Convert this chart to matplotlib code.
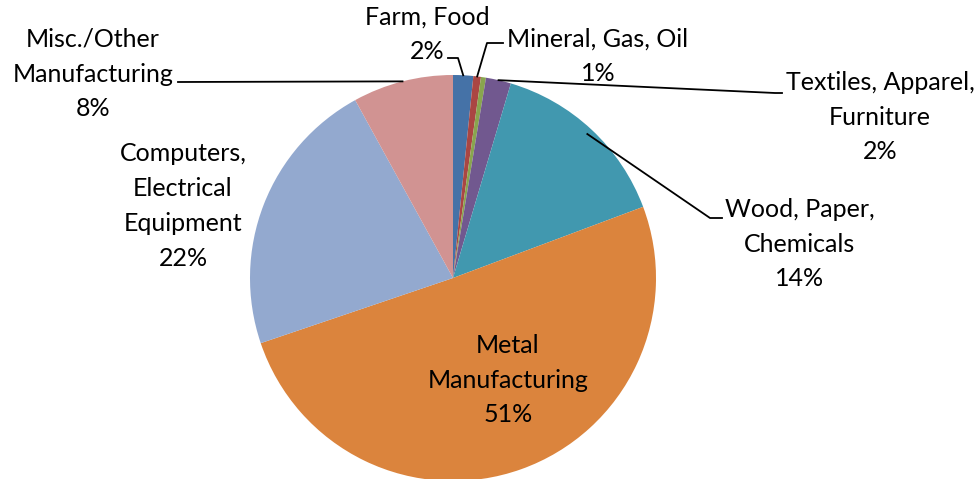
import numpy as np
import matplotlib.pyplot as plt

categories = ["Farm, Food", "Mineral, Gas, Oil", "Utility", "Textiles, Apparel, Furniture",
              "Wood, Paper, Chemicals", "Metal Manufacturing",
              "Computers, Electrical Equipment", "Misc./Other Manufacturing"]
values = [1.6, 0.6, 0.4, 2.0, 14.7, 50.5, 22.2, 8.0]
pct_labels = ["2%", "1%", "0%", "2%", "14%", "51%", "22%", "8%"]
colors = ["#4572A7", "#AA4643", "#89A54E", "#71588F", "#4198AF", "#DB843D", "#93A9CF", "#D19392"]

W, H = 979, 479
fig = plt.figure(figsize=(W / 100, H / 100), dpi=100)
ax = fig.add_axes([0, 0, 1, 1])

cx, cy, R = 453, 278, 203
wedges, _ = ax.pie(values, colors=colors, startangle=-90, counterclock=True,
                   center=(cx, cy), radius=R, wedgeprops=dict(linewidth=0),
                   frame=True)
ax.set_xlim(0, W)
ax.set_ylim(H, 0)
ax.set_aspect('equal')
ax.axis('off')

font = dict(family=["Lato", "DejaVu Sans"], fontsize=18, color="#000000",
            ha="center", va="center", linespacing=1.62)

def mid_point(i, frac=1.0):
    w = wedges[i]
    a = np.deg2rad((w.theta1 + w.theta2) / 2)
    return cx + R * frac * np.cos(a), cy + R * frac * np.sin(a)

def label(i, name):
    return name + "\n" + pct_labels[i]

# Farm, Food
ax.text(427, 34, label(0, "Farm, Food"), **font)
px, py = mid_point(0)
ax.plot([448, 458, px], [58, 58, py], color="black", lw=1.3)

# Mineral, Gas, Oil
ax.text(598, 56, label(1, "Mineral, Gas, Oil"), **font)
px, py = mid_point(1)
ax.plot([503, 487, px], [43, 43, py], color="black", lw=1.3)

# Textiles
ax.text(880, 117, label(3, "Textiles, Apparel,\nFurniture"), **font)
px, py = mid_point(3)
ax.plot([px, 775, 782], [py, 93, 93], color="black", lw=1.3)

# Wood
ax.text(800, 244, label(4, "Wood, Paper,\nChemicals"), **font)
px, py = mid_point(4, 0.97)
ax.plot([px, 710, 722], [py, 218, 218], color="black", lw=1.3)

# Metal
ax.text(508, 380, label(5, "Metal\nManufacturing"), **font)

# Computers
ax.text(183, 206, label(6, "Computers,\nElectrical\nEquipment"), **font)

# Misc
ax.text(93, 74, label(7, "Misc./Other\nManufacturing"), **font)
px, py = mid_point(7)
ax.plot([178, px], [82, py], color="black", lw=1.3)

fig.savefig("out.png", dpi=100)
